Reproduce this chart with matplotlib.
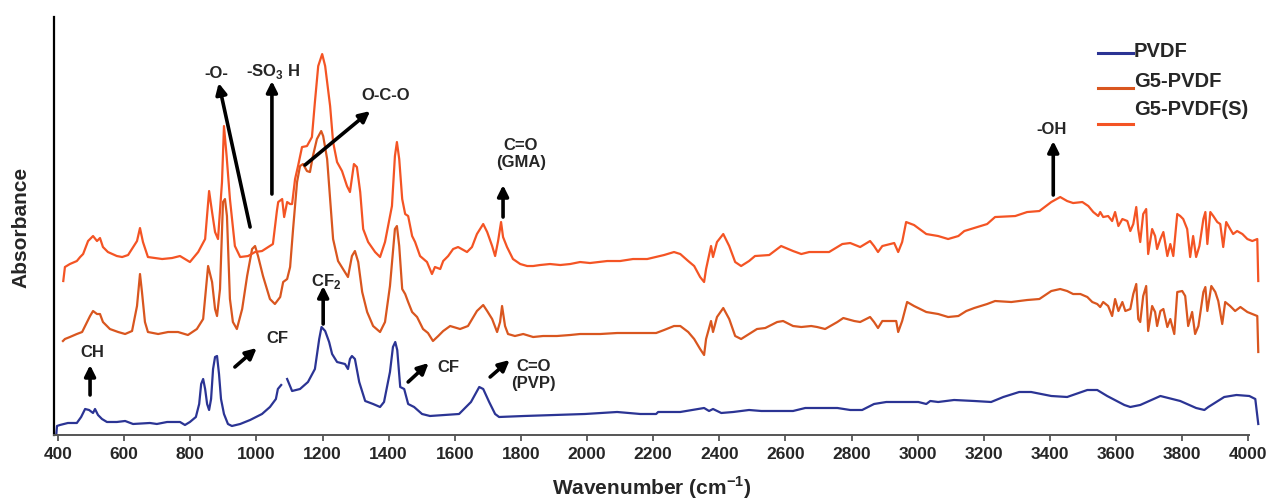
import numpy as np
import matplotlib.pyplot as plt
from matplotlib.lines import Line2D

plt.rcParams['font.family'] = ['Liberation Sans', 'DejaVu Sans']
plt.rcParams['font.weight'] = 'bold'
plt.rcParams['mathtext.fontset'] = 'custom'
plt.rcParams['mathtext.rm'] = 'Liberation Sans:bold'
plt.rcParams['mathtext.bf'] = 'Liberation Sans:bold'

# espectros (numero de onda em cm-1, absorbancia em u.a. com deslocamento)
pvdf_wn = [395, 397, 406, 430, 457, 470, 482, 494, 506, 512, 521, 533, 548, 578, 603, 627, 678, 699, 730, 769,
           784, 799, 817, 827, 833, 839, 845, 851, 857, 863, 869, 875, 881, 887, 893, 902, 914, 926, 951, 981,
           1017, 1041, 1059, 1065, 1075, 1084, 1093, 1108, 1132, 1156, 1177, 1190, 1197, 1208, 1220, 1229, 1244,
           1268, 1277, 1283, 1289, 1298, 1311, 1329, 1353, 1374, 1386, 1404, 1413, 1420, 1426, 1435, 1447, 1459,
           1477, 1501, 1525, 1613, 1649, 1674, 1686, 1704, 1722, 1734, 1810, 1994, 2091, 2161, 2209, 2215, 2282,
           2336, 2354, 2369, 2381, 2406, 2442, 2490, 2527, 2623, 2660, 2757, 2796, 2832, 2868, 2905, 3002, 3026,
           3038, 3062, 3110, 3171, 3222, 3259, 3307, 3343, 3404, 3452, 3513, 3543, 3573, 3625, 3643, 3673, 3734,
           3758, 3794, 3842, 3867, 3879, 3927, 3964, 4003, 4021, 4030]
pvdf_abs = [0.01, 0.09, 0.10, 0.12, 0.12, 0.18, 0.26, 0.25, 0.22, 0.26, 0.20, 0.16, 0.13, 0.13, 0.14, 0.11, 0.12,
            0.11, 0.13, 0.13, 0.10, 0.13, 0.18, 0.31, 0.51, 0.56, 0.46, 0.31, 0.25, 0.36, 0.66, 0.78, 0.79, 0.61,
            0.36, 0.21, 0.11, 0.09, 0.11, 0.15, 0.21, 0.28, 0.36, 0.46, 0.50, np.nan, 0.56, 0.44, 0.46, 0.53, 0.66,
            0.96, 1.08, 1.04, 0.93, 0.81, 0.73, 0.71, 0.66, 0.76, 0.79, 0.76, 0.53, 0.34, 0.31, 0.28, 0.33, 0.63,
            0.88, 0.93, 0.85, 0.48, 0.46, 0.31, 0.28, 0.21, 0.19, 0.21, 0.33, 0.48, 0.46, 0.33, 0.21, 0.18, 0.19,
            0.21, 0.23, 0.21, 0.21, 0.23, 0.23, 0.26, 0.27, 0.24, 0.26, 0.22, 0.23, 0.25, 0.24, 0.24, 0.27, 0.27,
            0.25, 0.25, 0.31, 0.33, 0.33, 0.31, 0.34, 0.33, 0.35, 0.34, 0.33, 0.38, 0.43, 0.43, 0.39, 0.38, 0.45,
            0.45, 0.39, 0.30, 0.28, 0.30, 0.39, 0.37, 0.34, 0.27, 0.25, 0.28, 0.38, 0.40, 0.39, 0.36, 0.11]

g5_wn = [415, 421, 436, 457, 473, 488, 497, 506, 518, 527, 536, 557, 582, 603, 624, 639, 648, 654, 663, 672, 703,
         733, 763, 793, 820, 839, 854, 866, 875, 881, 890, 899, 905, 911, 920, 929, 941, 957, 972, 987, 996, 1005,
         1020, 1041, 1056, 1072, 1081, 1093, 1102, 1111, 1123, 1132, 1141, 1153, 1162, 1171, 1183, 1196, 1202,
         1214, 1223, 1232, 1247, 1262, 1277, 1289, 1298, 1308, 1320, 1335, 1353, 1374, 1389, 1404, 1419, 1425,
         1432, 1441, 1450, 1459, 1471, 1486, 1504, 1519, 1534, 1550, 1565, 1586, 1616, 1640, 1667, 1686, 1698,
         1713, 1728, 1737, 1743, 1752, 1761, 1782, 1807, 1837, 1867, 1909, 1949, 1979, 2040, 2091, 2139, 2209,
         2233, 2263, 2282, 2306, 2324, 2342, 2354, 2360, 2375, 2381, 2393, 2412, 2430, 2448, 2466, 2490, 2514,
         2539, 2575, 2593, 2623, 2648, 2678, 2696, 2720, 2757, 2775, 2808, 2826, 2856, 2868, 2880, 2893, 2935,
         2941, 2953, 2968, 2989, 3026, 3062, 3092, 3123, 3147, 3171, 3210, 3234, 3283, 3331, 3368, 3404, 3431,
         3452, 3470, 3492, 3513, 3528, 3543, 3552, 3561, 3576, 3588, 3597, 3607, 3619, 3628, 3643, 3652, 3661,
         3667, 3673, 3682, 3691, 3697, 3709, 3718, 3724, 3734, 3743, 3755, 3764, 3776, 3785, 3800, 3809, 3818,
         3830, 3839, 3849, 3864, 3870, 3876, 3888, 3900, 3909, 3921, 3930, 3945, 3960, 3976, 3997, 4012, 4027,
         4030]
g5_abs = [0.94, 0.96, 0.98, 1.01, 1.03, 1.13, 1.19, 1.24, 1.21, 1.21, 1.13, 1.06, 1.03, 1.01, 1.04, 1.29, 1.61,
          1.43, 1.13, 1.03, 1.01, 1.03, 1.03, 1.00, 1.06, 1.16, 1.69, 1.53, 1.26, 1.19, 1.46, 2.33, 2.36, 2.19,
          1.36, 1.13, 1.06, 1.26, 1.59, 1.86, 1.89, 1.79, 1.59, 1.36, 1.31, 1.38, 1.53, 1.56, 1.68, 2.06, 2.53,
          2.69, 2.71, 2.64, 2.63, 2.79, 2.96, 3.04, 2.99, 2.76, 2.36, 1.96, 1.74, 1.66, 1.58, 1.79, 1.84, 1.73,
          1.43, 1.23, 1.09, 1.03, 1.13, 1.49, 2.06, 2.09, 1.89, 1.46, 1.41, 1.33, 1.23, 1.18, 1.06, 1.02, 0.94,
          0.99, 1.04, 1.09, 1.06, 1.09, 1.24, 1.30, 1.24, 1.16, 1.03, 1.13, 1.29, 1.09, 1.01, 0.99, 1.01, 0.98,
          0.99, 0.99, 1.00, 1.01, 1.01, 1.02, 1.02, 1.02, 1.05, 1.09, 1.09, 1.03, 0.96, 0.86, 0.80, 0.96, 1.14,
          1.03, 1.18, 1.27, 1.16, 0.99, 0.96, 1.01, 1.06, 1.07, 1.13, 1.14, 1.09, 1.08, 1.09, 1.08, 1.06, 1.13,
          1.17, 1.14, 1.13, 1.18, 1.13, 1.07, 1.14, 1.14, 1.03, 1.14, 1.33, 1.29, 1.23, 1.21, 1.18, 1.19, 1.24,
          1.27, 1.31, 1.34, 1.33, 1.35, 1.36, 1.44, 1.46, 1.44, 1.41, 1.41, 1.38, 1.33, 1.31, 1.28, 1.33, 1.29,
          1.19, 1.36, 1.24, 1.33, 1.24, 1.26, 1.41, 1.51, 1.16, 1.13, 1.39, 1.49, 1.04, 1.29, 1.23, 1.09, 1.24,
          1.26, 1.08, 1.16, 1.01, 1.43, 1.44, 1.39, 1.09, 1.23, 1.01, 1.09, 1.43, 1.48, 1.24, 1.49, 1.43, 1.34,
          1.11, 1.33, 1.29, 1.24, 1.28, 1.23, 1.21, 1.19, 0.83]

g5s_wn = [416, 421, 436, 457, 467, 476, 491, 506, 518, 527, 536, 551, 578, 594, 612, 639, 648, 657, 672, 715, 745,
          769, 799, 824, 845, 857, 866, 875, 884, 896, 902, 910, 920, 935, 951, 975, 996, 1017, 1050, 1062, 1066,
          1078, 1084, 1093, 1102, 1108, 1117, 1126, 1138, 1153, 1168, 1177, 1187, 1199, 1208, 1223, 1232, 1244,
          1259, 1274, 1283, 1295, 1304, 1314, 1323, 1338, 1359, 1374, 1389, 1410, 1419, 1425, 1432, 1441, 1450,
          1459, 1471, 1480, 1495, 1516, 1531, 1540, 1556, 1565, 1580, 1595, 1610, 1637, 1652, 1667, 1686, 1698,
          1713, 1722, 1731, 1740, 1746, 1758, 1776, 1798, 1819, 1837, 1858, 1888, 1919, 1949, 1979, 2009, 2061,
          2100, 2139, 2182, 2233, 2263, 2282, 2306, 2324, 2342, 2354, 2360, 2375, 2381, 2393, 2412, 2430, 2448,
          2466, 2490, 2508, 2551, 2587, 2623, 2648, 2672, 2732, 2772, 2796, 2826, 2856, 2868, 2880, 2893, 2929,
          2941, 2953, 2965, 2989, 3026, 3062, 3092, 3123, 3141, 3171, 3210, 3234, 3295, 3331, 3368, 3404, 3431,
          3452, 3470, 3498, 3516, 3531, 3546, 3552, 3561, 3576, 3588, 3597, 3607, 3619, 3634, 3643, 3652, 3661,
          3667, 3673, 3682, 3691, 3697, 3709, 3718, 3724, 3734, 3743, 3755, 3764, 3773, 3785, 3794, 3803, 3815,
          3824, 3833, 3842, 3852, 3864, 3870, 3876, 3885, 3894, 3906, 3915, 3924, 3933, 3945, 3954, 3966, 3982,
          3997, 4012, 4027, 4030]
g5s_abs = [1.54, 1.68, 1.71, 1.74, 1.78, 1.81, 1.94, 1.99, 1.94, 1.97, 1.88, 1.83, 1.79, 1.78, 1.80, 1.94, 2.07,
           1.93, 1.78, 1.76, 1.77, 1.79, 1.73, 1.83, 1.96, 2.44, 2.23, 2.03, 1.96, 2.53, 3.09, 2.79, 2.36, 1.89,
           1.78, 1.79, 1.83, 1.84, 1.91, 2.24, 2.33, 2.36, 2.18, 2.33, 2.31, 2.31, 2.56, 2.69, 2.88, 2.89, 2.98,
           3.33, 3.69, 3.81, 3.69, 3.29, 2.93, 2.73, 2.64, 2.49, 2.43, 2.71, 2.68, 2.43, 2.06, 1.93, 1.83, 1.78,
           1.93, 2.29, 2.79, 2.93, 2.76, 2.36, 2.21, 2.19, 1.99, 1.93, 1.79, 1.73, 1.61, 1.68, 1.66, 1.74, 1.79,
           1.86, 1.88, 1.83, 1.88, 2.01, 2.11, 2.03, 1.89, 1.79, 1.94, 2.13, 1.98, 1.88, 1.76, 1.71, 1.69, 1.69,
           1.70, 1.71, 1.70, 1.71, 1.73, 1.72, 1.74, 1.74, 1.76, 1.76, 1.80, 1.83, 1.81, 1.74, 1.69, 1.58, 1.53,
           1.66, 1.89, 1.78, 1.93, 2.01, 1.89, 1.73, 1.69, 1.74, 1.79, 1.80, 1.89, 1.84, 1.81, 1.83, 1.83, 1.91,
           1.92, 1.88, 1.94, 1.89, 1.83, 1.89, 1.92, 1.83, 1.93, 2.13, 2.10, 2.01, 1.99, 1.96, 1.99, 2.04, 2.07,
           2.11, 2.18, 2.19, 2.23, 2.24, 2.33, 2.38, 2.34, 2.32, 2.33, 2.29, 2.23, 2.19, 2.23, 2.18, 2.19, 2.14,
           2.23, 2.09, 2.16, 2.14, 2.04, 2.11, 2.28, 2.06, 1.93, 2.21, 2.26, 1.81, 2.06, 1.99, 1.86, 1.96, 2.03,
           1.79, 1.91, 1.79, 2.21, 2.19, 2.16, 2.06, 1.78, 1.99, 1.78, 1.89, 2.16, 2.23, 1.91, 2.23, 2.19, 2.13,
           2.11, 1.88, 2.13, 2.06, 2.01, 2.04, 2.01, 1.96, 1.94, 1.96, 1.54]

series_names = ['PVDF', 'G5-PVDF', 'G5-PVDF(S)']
cores = ['#2B3494', '#D9561F', '#F45424']
xticks = list(range(400, 4001, 200))

# anotacoes: texto, posicao do texto, inicio e fim da seta
anotacoes = [
    ('-O-', (878, 3.63), (981, 2.08), (886, 3.52)),
    (r'-SO$_{\mathbf{3}}$ H', (1050, 3.65), (1047, 2.41), (1047, 3.54)),
    ('O-C-O', (1392, 3.41), (1147, 2.70), (1344, 3.24)),
    ('C=O\n(GMA)', (1800, 2.82), (1746, 2.18), (1746, 2.50)),
    ('-OH', (3405, 3.07), (3410, 2.40), (3410, 2.94)),
    ('CH', (503, 0.84), (497, 0.40), (497, 0.70)),
    ('CF', (1065, 0.98), (935, 0.68), (1001, 0.87)),
    (r'CF$_{\mathbf{2}}$', (1210, 1.55), (1202, 1.11), (1202, 1.49)),
    ('CF', (1580, 0.69), (1459, 0.53), (1521, 0.72)),
    ('C=O\n(PVP)', (1838, 0.61), (1707, 0.58), (1766, 0.75)),
]

fig = plt.figure(figsize=(12.71, 5.02), dpi=100)
ax = fig.add_axes([0.0425, 0.1315, 0.9402, 0.8325])

ax.plot(pvdf_wn, pvdf_abs, color=cores[0], lw=1.6, clip_on=False)
ax.plot(g5_wn, g5_abs, color=cores[1], lw=1.6, clip_on=False)
ax.plot(g5s_wn, g5s_abs, color=cores[2], lw=1.6, clip_on=False)

for txt, pos_txt, ini, fim in anotacoes:
    ax.annotate('', xy=fim, xytext=ini,
                arrowprops=dict(arrowstyle='-|>', color='black', lw=2.6, mutation_scale=16,
                                shrinkA=0, shrinkB=0))
    ax.text(pos_txt[0], pos_txt[1], txt, fontsize=12, fontweight='bold', color='#262626',
            ha='center', va='center', linespacing=1.1)

ax.set_xlim(388, 4002)
ax.set_ylim(0, 4.18)
ax.set_xticks(xticks)
ax.set_yticks([])
ax.tick_params(axis='x', direction='out', length=4, width=1.3, color='#555555',
               labelsize=12.5, labelcolor='#262626', pad=4)
for lab in ax.get_xticklabels():
    lab.set_fontweight('bold')
ax.spines['top'].set_visible(False)
ax.spines['right'].set_visible(False)
ax.spines['left'].set_color('black')
ax.spines['left'].set_linewidth(1.6)
ax.spines['bottom'].set_color('#555555')
ax.spines['bottom'].set_linewidth(1.4)

ax.set_xlabel(r'Wavenumber (cm$^{\mathbf{-1}}$)', fontsize=15, fontweight='bold', color='#262626', labelpad=9)
ax.set_ylabel('Absorbance', fontsize=15, fontweight='bold', color='#262626', labelpad=17)

# legenda feita a mao, como no original
leg_y_linha = [0.8924, 0.8227, 0.751]
leg_y_texto = [0.8984, 0.8367, 0.7809]
for nome, cor, yl, yt in zip(series_names, cores, leg_y_linha, leg_y_texto):
    fig.add_artist(Line2D([0.8639, 0.8914], [yl, yl], color=cor, lw=2.2, transform=fig.transFigure))
    fig.text(0.8922, yt, nome, fontsize=14.5, fontweight='bold', color='#262626', va='center', ha='left')

plt.savefig('out.png', dpi=100)
